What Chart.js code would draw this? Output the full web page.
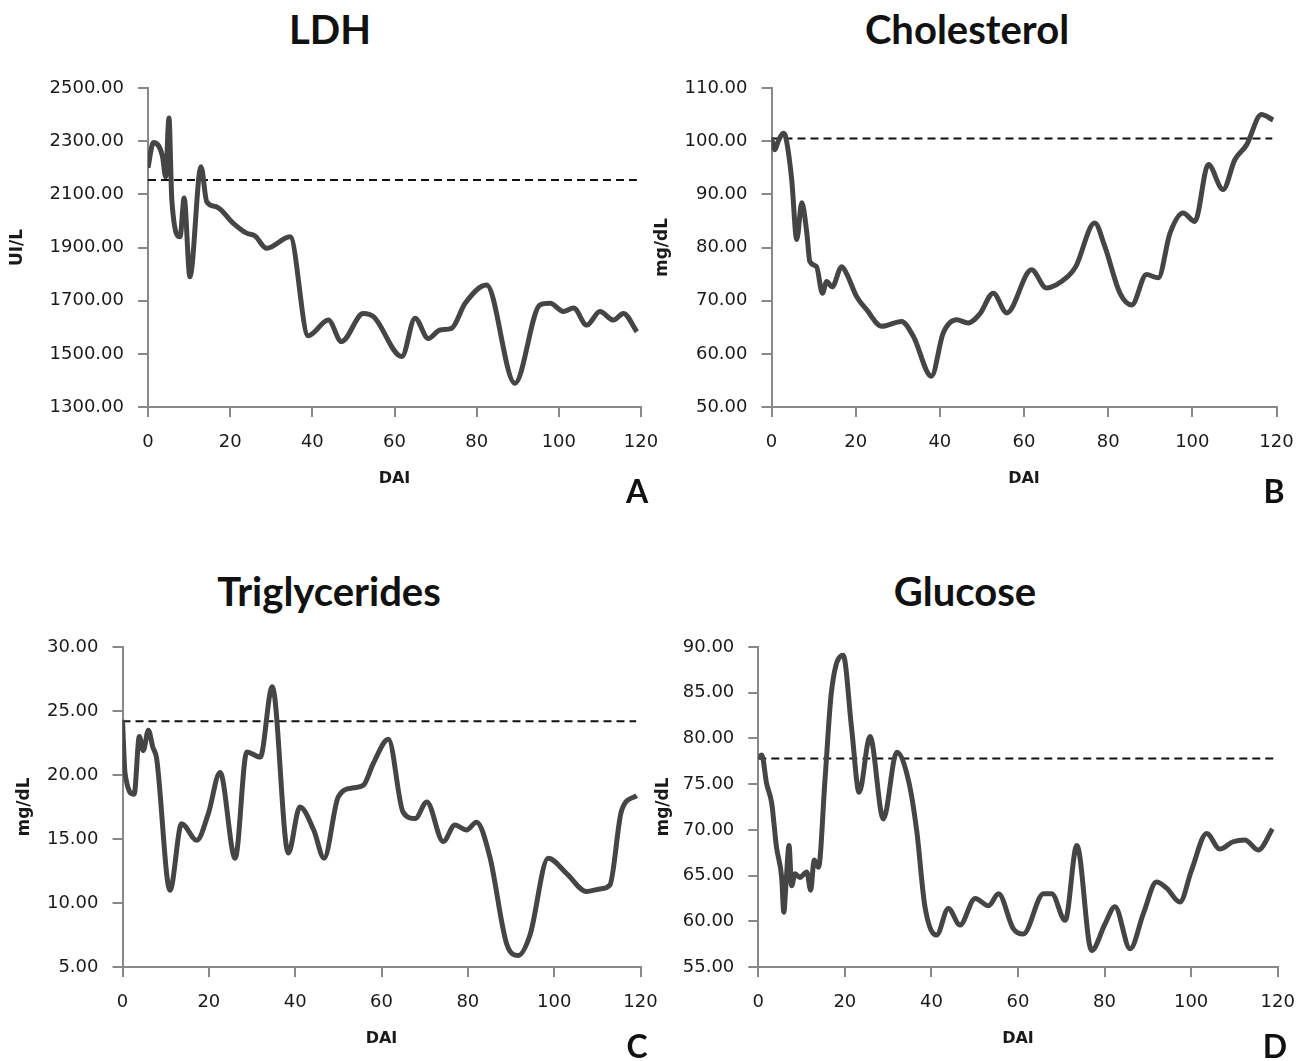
<!DOCTYPE html>
<html lang="en">
<head>
<meta charset="UTF-8">
<title>LDH, Cholesterol, Triglycerides, Glucose</title>
<script src="https://cdn.jsdelivr.net/npm/chart.js"></script>
<style>
    body {
        margin: 0;
        background: #fff;
        width: 1313px;
        height: 1061px;
        position: relative;
        overflow: hidden;
        font-family: Lato, Arial, sans-serif;
    }
    canvas {
        position: absolute;
    }
    .title {
        position: absolute;
        transform: translateX(-50%);
        font-weight: bold;
        font-size: 40px;
        line-height: 40px;
        color: #111;
        white-space: nowrap;
    }
    .letter {
        position: absolute;
        transform: translateX(-50%);
        font-weight: bold;
        font-size: 32px;
        line-height: 32px;
        color: #111;
    }
</style>
</head>
<body>

<div class="title" style="left:330px; top:9px;">LDH</div>
<div class="title" style="left:967px; top:9px;">Cholesterol</div>
<div class="title" style="left:329px; top:571px;">Triglycerides</div>
<div class="title" style="left:965px; top:571px;">Glucose</div>

<canvas id="chartA" width="660" height="440" style="left:0; top:60px;"></canvas>
<canvas id="chartB" width="650" height="440" style="left:650px; top:60px;"></canvas>
<canvas id="chartC" width="660" height="440" style="left:0; top:620px;"></canvas>
<canvas id="chartD" width="650" height="440" style="left:650px; top:620px;"></canvas>

<div class="letter" style="left:637px; top:475px;">A</div>
<div class="letter" style="left:1274px; top:475px;">B</div>
<div class="letter" style="left:637px; top:1030px;">C</div>
<div class="letter" style="left:1275px; top:1030px;">D</div>

<script>
// DAI values (x) and readings (y) for each panel
const ldhDays = [0, 1.3, 3.5, 4.3, 5.1, 5.8, 7.8, 8.8, 10.2, 12.9, 14.3, 16.7, 20.7, 24, 26, 28.9, 34.6, 39, 43.9, 47.1, 52.4, 54.9, 61.8, 65, 68.2, 71.1, 73.9, 77.2, 82.4, 89.3, 95.4, 97.9, 101.1, 103.6, 106.8, 110, 113.3, 115.7, 119];
const ldhValues = [2200, 2295, 2245, 2166, 2387, 2079, 1940, 2086, 1790, 2204, 2072, 2053, 1992, 1954, 1944, 1897, 1940, 1568, 1627, 1546, 1652, 1640, 1490, 1634, 1558, 1590, 1596, 1690, 1759, 1389, 1684, 1690, 1659, 1672, 1608, 1659, 1627, 1652, 1583];
const ldhRef = 2154;

const cholDays = [0, 0.8, 1.6, 2.8, 3.3, 4.8, 6, 7.2, 8.4, 9.1, 10.7, 12.1, 13.1, 14.4, 16.7, 17.9, 20.2, 22.6, 26.2, 30.9, 33.7, 38, 40.8, 44, 46.7, 49.5, 52.7, 55.9, 61.8, 65.3, 70.5, 72.3, 76.8, 79.2, 82.8, 85.6, 89.1, 91.9, 94.7, 97.8, 100.6, 103.8, 107.3, 110.1, 112.9, 116.4, 119.2];
const cholValues = [100.6, 98.4, 100, 101.5, 101, 92.8, 81.5, 88.4, 82.7, 77.4, 76.4, 71.4, 73.6, 72.6, 76.4, 75, 70.8, 68.3, 65.2, 66.1, 63.3, 55.8, 63.9, 66.4, 65.8, 67.5, 71.4, 67.7, 75.8, 72.4, 74.6, 76.4, 84.6, 80.2, 71.4, 69.2, 74.9, 74.3, 82.7, 86.5, 84.9, 95.6, 90.9, 96.5, 99.3, 105, 104];
const cholRef = 100.5;

const trigDays = [0, 0.6, 2.7, 3.9, 4.8, 6, 7, 7.9, 11, 13.7, 17.2, 19.9, 22.6, 26.1, 28.8, 31.9, 34.7, 38.4, 41.1, 44.3, 46.7, 50, 53.5, 55.8, 58.1, 61.6, 65, 67.8, 70.5, 74.3, 77, 79.7, 82, 85.1, 89, 91.7, 94.4, 98.6, 102.9, 107.5, 110.6, 112.9, 115.6, 119.1];
const trigValues = [24.3, 20.1, 18.5, 23, 21.9, 23.5, 22.2, 21.3, 11, 16.2, 14.9, 17, 20.2, 13.5, 21.8, 21.4, 26.9, 13.9, 17.5, 15.7, 13.5, 18.3, 19, 19.2, 20.9, 22.8, 17.1, 16.6, 17.9, 14.8, 16.1, 15.7, 16.3, 13.6, 6.8, 5.9, 7.5, 13.5, 12.3, 10.9, 11.1, 11.4, 17.2, 18.4];
const trigRef = 24.2;

const glucDays = [0, 0.8, 1.9, 3.1, 4.2, 5.4, 5.9, 6.4, 7.1, 7.7, 8.5, 9.6, 11.2, 12.1, 12.9, 13.9, 15.4, 16.9, 19.6, 21.6, 23.3, 25.8, 28.9, 32, 34.7, 36.6, 38.5, 41.2, 43.9, 46.6, 50.1, 53.2, 55.5, 58.9, 61.2, 65.9, 67.8, 70.9, 73.6, 77, 80.1, 82.4, 85.9, 89, 92, 94.4, 97.4, 100.1, 103.6, 106.6, 109.7, 112.4, 115.5, 118.8];
const glucValues = [77.8, 78.2, 75.1, 72.9, 68.1, 64.8, 61, 64.1, 68.3, 63.9, 65.2, 64.8, 65.4, 63.4, 66.7, 65.9, 75.4, 85.1, 89.1, 80.9, 74.1, 80.2, 71.2, 78.5, 75.4, 69.9, 61.6, 58.5, 61.4, 59.6, 62.5, 61.7, 63, 59.2, 58.6, 63, 63, 60.1, 68.3, 56.8, 59.7, 61.6, 57, 60.9, 64.3, 63.6, 62.1, 65.6, 69.6, 67.9, 68.7, 68.9, 67.8, 70.1];
const glucRef = 77.8;

// dashed reference line runs across the DAI range
const refDays = [0, 119];

const axisColor = '#888';
const textColor = '#1a1a1a';

function toPoints(xs, ys) {
    return xs.map((x, i) => ({ x: x, y: ys[i] }));
}

// one panel: curve + dashed reference, fixed chart-area placement
function makePanel(id, cfg) {
    const ctx = document.getElementById(id).getContext('2d');
    new Chart(ctx, {
        type: 'line',
        data: {
            datasets: [
                {
                    data: toPoints(cfg.days, cfg.values),
                    borderColor: '#454545',
                    borderWidth: 5,
                    pointRadius: 0,
                    fill: false,
                    cubicInterpolationMode: 'monotone'
                },
                {
                    data: toPoints(refDays, [cfg.ref, cfg.ref]),
                    borderColor: '#111',
                    borderWidth: 2,
                    borderDash: [8, 5],
                    pointRadius: 0,
                    fill: false
                }
            ]
        },
        options: {
            responsive: false,
            animation: false,
            layout: { padding: { top: cfg.padTop, right: cfg.padRight, left: 0, bottom: 0 } },
            plugins: { legend: { display: false }, tooltip: { enabled: false } },
            scales: {
                x: {
                    type: 'linear',
                    min: 0,
                    max: 120,
                    afterFit: s => { s.height = 93; s.paddingLeft = 0; s.paddingRight = 0; },
                    ticks: {
                        stepSize: 20,
                        padding: 15,
                        color: textColor,
                        font: { family: 'DejaVu Sans', size: 18 }
                    },
                    grid: { drawOnChartArea: false, drawTicks: true, tickLength: 10, color: axisColor, lineWidth: 2 },
                    border: { display: true, color: axisColor, width: 2 },
                    title: {
                        display: true,
                        text: 'DAI',
                        color: textColor,
                        padding: { top: 0, bottom: 12 },
                        font: { family: 'DejaVu Sans', size: 16, weight: 'bold' }
                    }
                },
                y: {
                    min: cfg.min,
                    max: cfg.max,
                    afterFit: s => { s.width = cfg.yWidth; s.paddingTop = 0; s.paddingBottom = 0; },
                    ticks: {
                        stepSize: cfg.step,
                        padding: 14,
                        color: textColor,
                        font: { family: 'DejaVu Sans', size: 18 },
                        callback: v => v.toFixed(2)
                    },
                    grid: { drawOnChartArea: false, drawTicks: true, tickLength: 10, color: axisColor, lineWidth: 2 },
                    border: { display: true, color: axisColor, width: 2 },
                    title: {
                        display: true,
                        text: cfg.unit,
                        color: textColor,
                        padding: { top: cfg.titlePad, bottom: 0 },
                        font: { family: 'DejaVu Sans', size: 17, weight: 'bold' }
                    }
                }
            }
        }
    });
}

makePanel('chartA', { days: ldhDays, values: ldhValues, ref: ldhRef, min: 1300, max: 2500, step: 200, unit: 'UI/L', yWidth: 148, padTop: 28, padRight: 19, titlePad: 7 });
makePanel('chartB', { days: cholDays, values: cholValues, ref: cholRef, min: 50, max: 110, step: 10, unit: 'mg/dL', yWidth: 121.5, padTop: 28, padRight: 23.5, titlePad: 2 });
makePanel('chartC', { days: trigDays, values: trigValues, ref: trigRef, min: 5, max: 30, step: 5, unit: 'mg/dL', yWidth: 122.5, padTop: 27, padRight: 19.5, titlePad: 14 });
makePanel('chartD', { days: glucDays, values: glucValues, ref: glucRef, min: 55, max: 90, step: 5, unit: 'mg/dL', yWidth: 108.3, padTop: 27, padRight: 22.3, titlePad: 3 });
</script>
</body>
</html>
